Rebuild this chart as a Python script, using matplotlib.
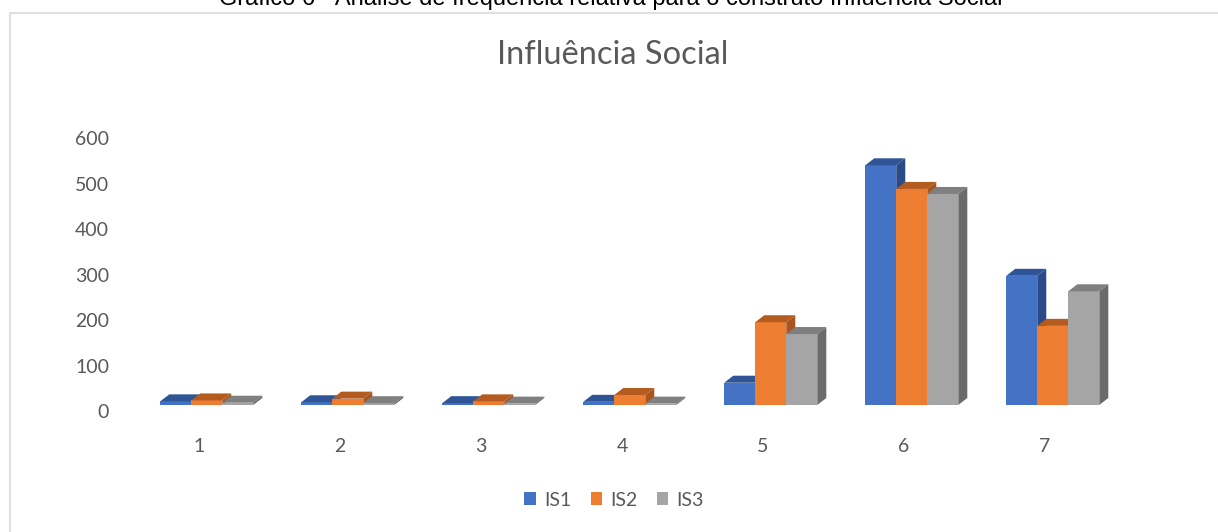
import matplotlib.pyplot as plt
from matplotlib.patches import Polygon, Rectangle, Patch
from matplotlib.transforms import ScaledTranslation

categories = ['1', '2', '3', '4', '5', '6', '7']
series_names = ['IS1', 'IS2', 'IS3']
is1 = [8, 6, 4, 7, 49, 527, 284]
is2 = [10, 14, 8, 22, 182, 475, 174]
is3 = [5, 4, 3, 3, 156, 464, 250]

front_colors = ['#4472C4', '#ED7D31', '#A5A5A5']
top_colors = ['#2F5597', '#B45B20', '#7F7F7F']
side_colors = ['#2A4B88', '#A9551E', '#6B6B6B']

W, H = 1218, 532
fig = plt.figure(figsize=(W / 100, H / 100), dpi=100)

# chart frame
fig.patches.append(Rectangle((10 / W, -0.02), 1.0, (H - 13) / H + 0.02,
                             transform=fig.transFigure, fill=False,
                             edgecolor='#D9D9D9', linewidth=1.2))

# caption cut off at the top of the picture
fig.text(611 / W, 1 - 5 / H, 'Gráfico 6 - Análise de frequência relativa para o construto Influência Social',
         ha='center', va='baseline', fontsize=17, family='Liberation Sans', color='black')

fig.text(613 / W, 1 - 55 / H, 'Influência Social', ha='center', va='center',
         fontsize=23.5, family='Lato', color='#595959')

ax = fig.add_axes([128.5 / W, (H - 405) / H, 987 / W, 282 / H])
ax.set_xlim(0.5, 7.5)
ax.set_ylim(0, 620)
for s in ax.spines.values():
    s.set_visible(False)

bw = 0.22
dx = 0.064   # depth, x (data units)
dy = 15.4    # depth, y (data units)
shift = 0.055
x = list(range(1, len(categories) + 1))

for k, vals in enumerate([is1, is2, is3]):
    for i, v in enumerate(vals):
        x0 = x[i] + shift + (k - 1) * bw - bw / 2
        x1 = x0 + bw
        ax.add_patch(Rectangle((x0, 0), bw, v, facecolor=front_colors[k], edgecolor='none', zorder=3))
        ax.add_patch(Polygon([(x0, v), (x1, v), (x1 + dx, v + dy), (x0 + dx, v + dy)],
                             closed=True, facecolor=top_colors[k], edgecolor='none', zorder=3))
        ax.add_patch(Polygon([(x1, 0), (x1 + dx, dy), (x1 + dx, v + dy), (x1, v)],
                             closed=True, facecolor=side_colors[k], edgecolor='none', zorder=3))

ax.set_xticks(x)
ax.set_xticklabels(categories)
ax.set_yticks(range(0, 601, 100))
ax.tick_params(length=0, labelsize=14, labelcolor='#595959')
ax.tick_params(axis='x', pad=24)
ax.tick_params(axis='y', pad=14)
for lab in ax.get_xticklabels() + ax.get_yticklabels():
    lab.set_family('Lato')
for lab in ax.get_yticklabels():
    lab.set_transform(lab.get_transform() + ScaledTranslation(0, -6 / 100, fig.dpi_scale_trans))

handles = [Patch(facecolor=c, edgecolor='none') for c in front_colors]
fig.legend(handles, series_names, loc='center', bbox_to_anchor=(614 / W, 1 - 500 / H),
           ncol=3, frameon=False, handlelength=0.6, handleheight=0.6, handletextpad=0.4,
           columnspacing=1.0, prop={'family': 'Lato', 'size': 14}, labelcolor='#595959')

fig.savefig('out.png', dpi=100)
